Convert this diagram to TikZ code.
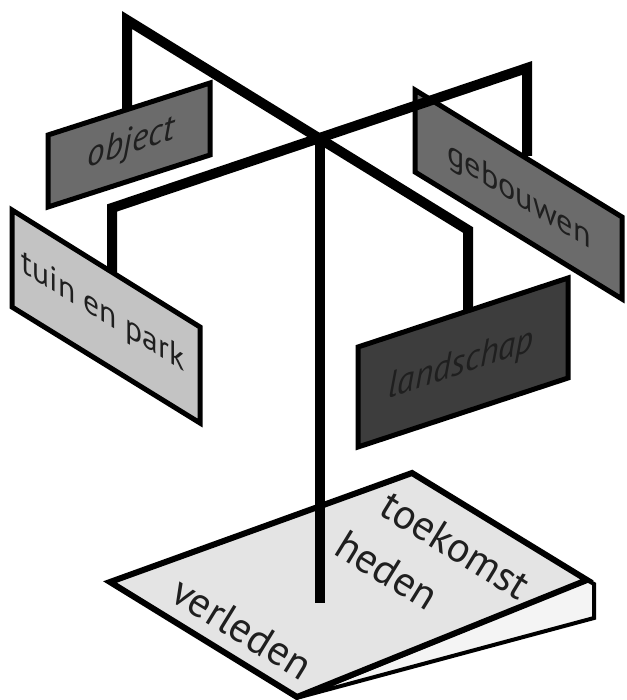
\documentclass[tikz,border=0pt]{standalone}
\usepackage{fontspec}
\setmainfont{PT Sans}
\usepackage{tikz}

\definecolor{signdark}{HTML}{3D3D3D}
\definecolor{signmid}{HTML}{6B6B6B}
\definecolor{signlight}{HTML}{C3C3C3}
\definecolor{basefill}{HTML}{E4E4E4}
\definecolor{pagefill}{HTML}{F4F4F4}

\begin{document}
\begin{tikzpicture}[
  x=1pt, y=-1pt,
  rod/.style={line width=10pt, line join=miter},
  sign/.style={draw, line width=5pt, line join=miter},
  plate/.style={draw, line width=6pt, line join=miter},
  signtext/.style={font=\fontsize{34}{34}\selectfont, text=black!88, inner sep=0pt},
  floortext/.style={font=\fontsize{42}{42}\selectfont, text=black!88, inner sep=0pt, rotate=-31.6}
]
\useasboundingbox (0,0) rectangle (626,700);

% base with pages
\draw[plate, line width=4pt, fill=pagefill] (587,580) -- (594,584) -- (594,618) -- (300,697) -- cycle;
\draw[plate, fill=basefill] (110,582) -- (412,473) -- (587,580) -- (297,697) -- cycle;
\node[floortext] (verleden) at (242,628) {verleden};
\node[floortext] (heden) at (387,570) {heden};
\node[floortext] (toekomst) at (456,545) {toekomst};

% pole
\coordinate (top) at (320,140);
\coordinate (foot) at (320,603);
\draw[rod] (top) -- (foot);

% signs
\draw[sign, fill=signmid] (48,135) -- (210,83) -- (210,155) -- (48,207) -- cycle;
\node[signtext, yslant=0.321, xscale=0.95, font=\fontsize{37}{37}\selectfont\itshape] (object) at (131,144) {object};

\draw[sign, fill=signlight] (12,210) -- (200,327) -- (200,423) -- (12,307) -- cycle;
\node[signtext, yslant=-0.614, xscale=0.93] (tuin) at (103,313) {tuin en park};

\draw[sign, fill=signmid] (415,90) -- (622,217) -- (622,299) -- (415,172) -- cycle;
\node[signtext, yslant=-0.614, xscale=0.95] (gebouwen) at (519,197) {gebouwen};

\draw[sign, fill=signdark] (358,347) -- (568,278) -- (568,378) -- (358,447) -- cycle;
\node[signtext, yslant=0.329, xscale=0.95, font=\fontsize{37}{37}\selectfont\itshape] (landschap) at (461,365) {landschap};

% arms
\draw[rod] (127,110) -- (127,20) -- (468,230) -- (468,311);
\draw[rod] (112,272) -- (112,208) -- (527,68) -- (527,156);

\end{tikzpicture}
\end{document}
